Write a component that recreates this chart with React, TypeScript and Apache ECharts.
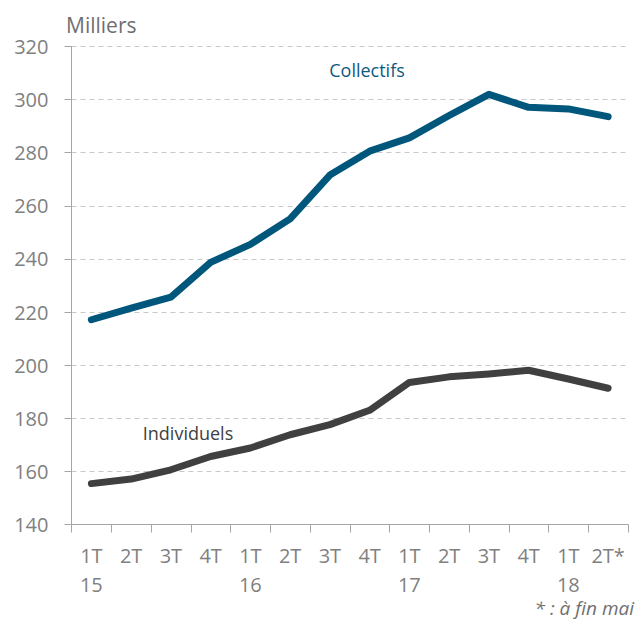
import React, { useEffect, useRef } from "react";
import * as echarts from "echarts";

const quarters = ["1T", "2T", "3T", "4T", "1T", "2T", "3T", "4T", "1T", "2T", "3T", "4T", "1T", "2T*"];
const years = ["15", "", "", "", "16", "", "", "", "17", "", "", "", "18", ""];
const collectifs = [217.1, 221.5, 225.6, 238.7, 245.5, 255.1, 271.6, 280.6, 285.6, 294.0, 302.0, 297.1, 296.5, 293.6];
const individuels = [155.4, 157.1, 160.6, 165.6, 168.8, 173.8, 177.6, 183.0, 193.5, 195.6, 196.7, 198.1, 194.8, 191.3];

const FONT = "'Open Sans', 'Noto Sans', sans-serif";

export default function App() {
  const ref = useRef<HTMLDivElement>(null);
  useEffect(() => {
    if (!ref.current) return;
    const chart = echarts.init(ref.current, null, { renderer: "svg" });
    const cats = quarters.map((q, i) => (years[i] ? q + "\n" + years[i] : q));
    chart.setOption({
      animation: false,
      backgroundColor: "#ffffff",
      grid: { left: 71.5, right: 12, top: 46.5, bottom: 98.5, containLabel: false },
      xAxis: {
        type: "category",
        data: cats,
        boundaryGap: true,
        axisLine: { lineStyle: { color: "#a6a6a6", width: 1 } },
        axisTick: { show: true, length: 8, interval: 0, lineStyle: { color: "#a6a6a6" } },
        axisLabel: {
          interval: 0,
          margin: 16,
          color: "#7f7f7f",
          fontFamily: FONT,
          fontSize: 20,
          lineHeight: 29,
          verticalAlign: "top",
        },
        splitLine: { show: false },
      },
      yAxis: {
        type: "value",
        min: 140,
        max: 320,
        interval: 20,
        axisLine: { show: true, lineStyle: { color: "#a6a6a6", width: 1 } },
        axisTick: { show: true, length: 7, lineStyle: { color: "#a6a6a6" } },
        axisLabel: { margin: 23, color: "#7f7f7f", fontFamily: FONT, fontSize: 20 },
        splitLine: { show: true, lineStyle: { color: "#c8c8c8", type: [5, 4], width: 1 } },
      },
      series: [
        {
          name: "Collectifs",
          type: "line",
          data: collectifs,
          symbol: "none",
          lineStyle: { color: "#00567b", width: 7, cap: "round", join: "round" },
          itemStyle: { color: "#00567b" },
        },
        {
          name: "Individuels",
          type: "line",
          data: individuels,
          symbol: "none",
          lineStyle: { color: "#404040", width: 7, cap: "round", join: "round" },
          itemStyle: { color: "#404040" },
        },
      ],
      graphic: [
        {
          type: "text",
          x: 66,
          y: 25,
          style: { text: "Milliers", fill: "#6f6f6f", font: `21px ${FONT}`, align: "left", verticalAlign: "middle" },
        },
        {
          type: "text",
          x: 367,
          y: 70,
          style: { text: "Collectifs", fill: "#0f5a7f", font: `18px ${FONT}`, align: "center", verticalAlign: "middle" },
        },
        {
          type: "text",
          x: 188,
          y: 433,
          style: { text: "Individuels", fill: "#404040", font: `18px ${FONT}`, align: "center", verticalAlign: "middle" },
        },
        {
          type: "text",
          x: 634,
          y: 608,
          style: { text: "* : à fin mai", fill: "#6f6f6f", font: `italic 19px ${FONT}`, align: "right", verticalAlign: "middle" },
        },
      ],
    });
    return () => chart.dispose();
  }, []);
  return <div ref={ref} style={{ width: 640, height: 623, position: "absolute", left: 0, top: 0 }} />;
}
